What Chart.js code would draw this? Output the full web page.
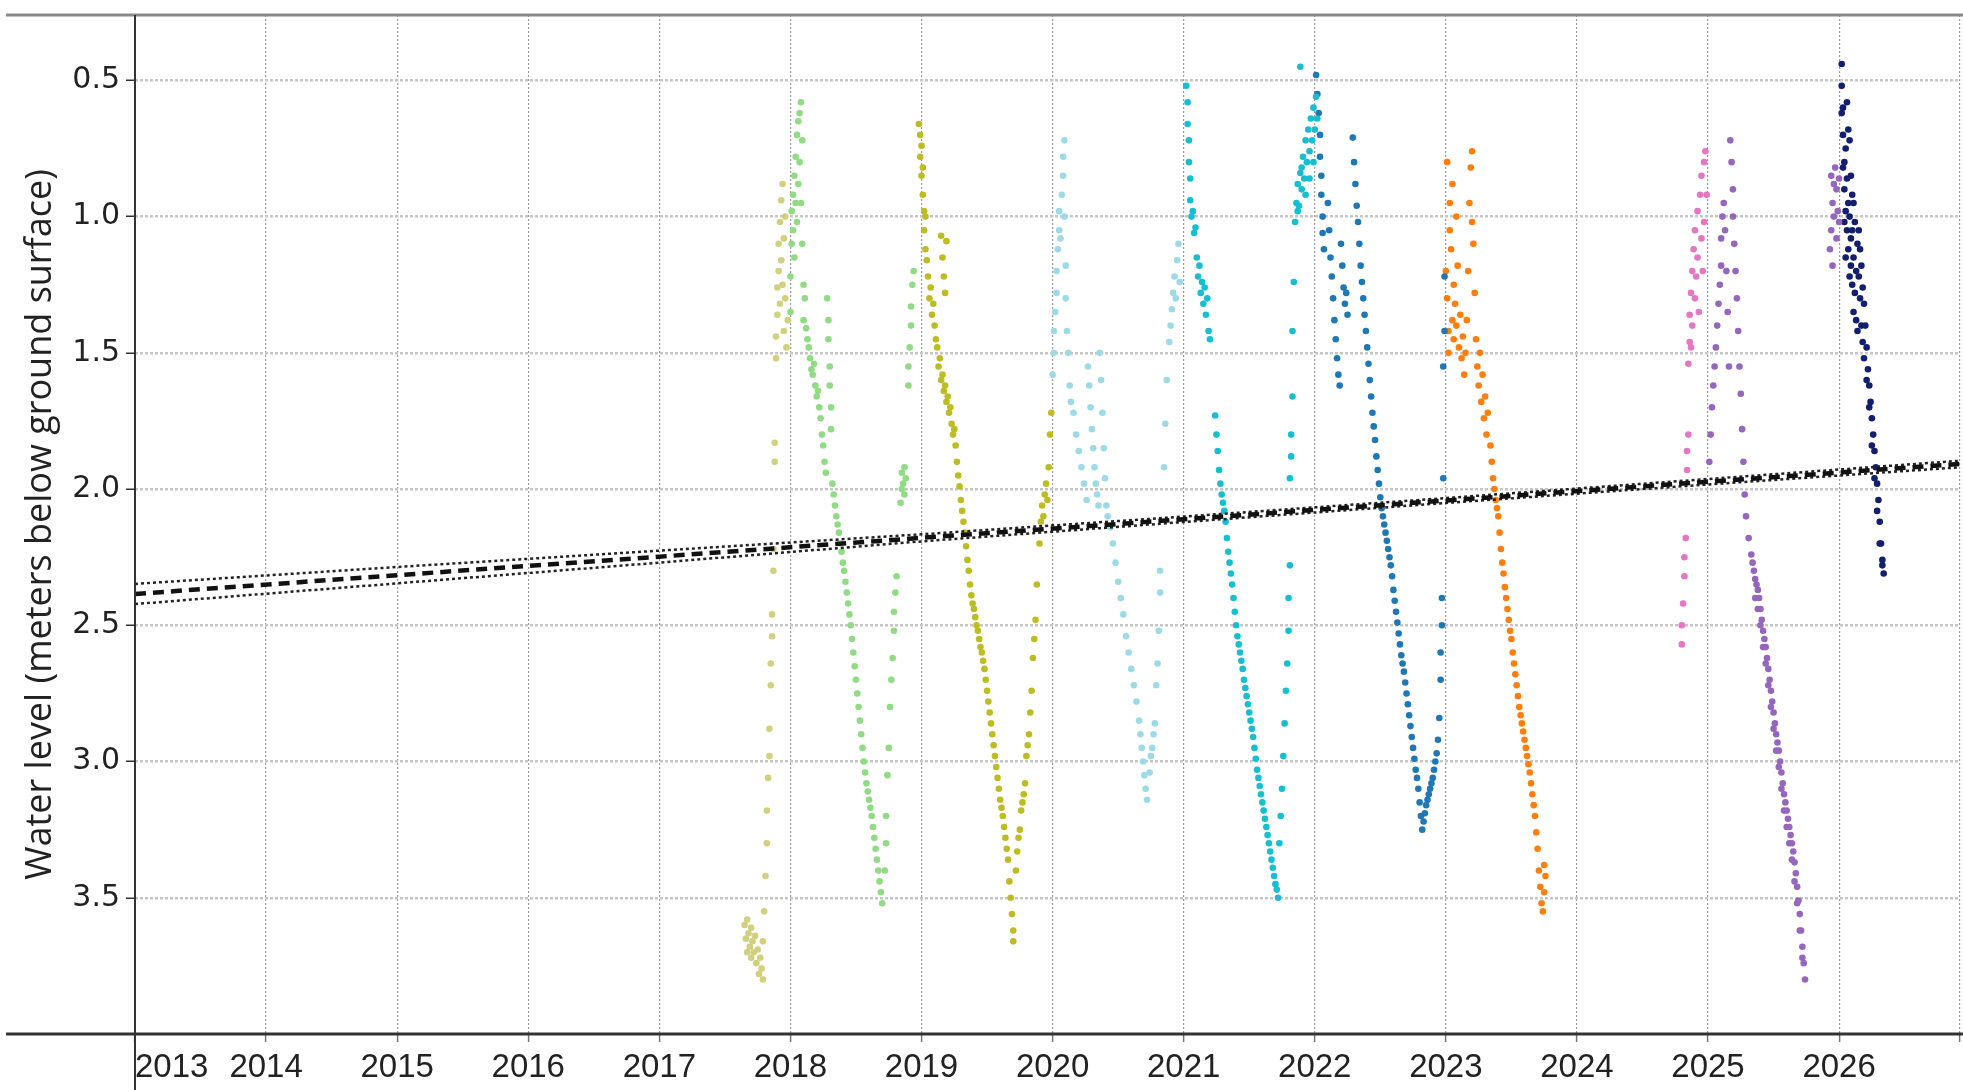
<!DOCTYPE html>
<html>
<head>
<meta charset="utf-8">
<script src="https://cdn.jsdelivr.net/npm/chart.js@4.4.1/dist/chart.umd.min.js"></script>
<style>
  html, body { margin: 0; padding: 0; background: #fff; }
  #wrap { width: 1963px; height: 1090px; }
</style>
</head>
<body>
<div id="wrap"><canvas id="levels" width="1963" height="1090"></canvas></div>
<script>
'use strict';

// axis ranges and ticks
const xMin = 2013.0;
const xMax = 2026.92;
const yearTicks = [2013, 2014, 2015, 2016, 2017, 2018, 2019, 2020, 2021, 2022, 2023, 2024, 2025, 2026, 2026.92];
const yearLabels = ['2013', '2014', '2015', '2016', '2017', '2018', '2019', '2020', '2021', '2022', '2023', '2024', '2025', '2026', ''];
const depthMin = 0.26;
const depthMax = 4.0;
const depthTicks = [0.5, 1.0, 1.5, 2.0, 2.5, 3.0, 3.5];

// long-term trend (center) with its bounds
const trendYears = [2013, 2015, 2017, 2019, 2021, 2023, 2025, 2026.92];
const trendMid = [2.385, 2.316, 2.248, 2.179, 2.111, 2.042, 1.973, 1.908];
const trendUpper = [2.348, 2.286, 2.226, 2.166, 2.101, 2.033, 1.963, 1.896];
const trendLower = [2.422, 2.346, 2.270, 2.192, 2.121, 2.051, 1.983, 1.920];

// readings per season: [decimal year, meters below ground surface]
const season2017 = [
  [2017.65, 3.60], [2017.66, 3.65], [2017.67, 3.58], [2017.67, 3.70], [2017.68, 3.63], [2017.69, 3.68],
  [2017.70, 3.61], [2017.70, 3.72], [2017.71, 3.66], [2017.72, 3.70], [2017.73, 3.64], [2017.74, 3.74],
  [2017.75, 3.69], [2017.76, 3.78], [2017.77, 3.72], [2017.78, 3.76], [2017.79, 3.80], [2017.79, 3.66],
  [2017.80, 3.55], [2017.81, 3.42], [2017.82, 3.30], [2017.82, 3.18], [2017.83, 3.06], [2017.84, 2.98],
  [2017.84, 2.88], [2017.85, 2.72], [2017.85, 2.64], [2017.86, 2.54], [2017.86, 2.46], [2017.87, 2.30],
  [2017.87, 2.22], [2017.88, 1.90], [2017.88, 1.83], [2017.89, 1.52], [2017.89, 1.44], [2017.90, 1.36],
  [2017.90, 1.26], [2017.91, 1.20], [2017.91, 1.10], [2017.92, 1.32], [2017.92, 1.02], [2017.93, 0.94],
  [2017.93, 1.16], [2017.94, 0.88], [2017.94, 1.25], [2017.95, 1.08], [2017.95, 1.42], [2017.96, 1.00],
  [2017.96, 1.30], [2017.97, 1.48], [2017.98, 1.38]
];
const season2018 = [
  [2018.00, 1.35], [2018.00, 1.22], [2018.01, 1.10], [2018.01, 0.98], [2018.02, 1.05], [2018.02, 0.92],
  [2018.03, 0.85], [2018.03, 1.15], [2018.04, 0.95], [2018.04, 0.78], [2018.05, 0.70], [2018.05, 1.02],
  [2018.06, 0.88], [2018.06, 0.65], [2018.07, 0.62], [2018.07, 0.80], [2018.08, 0.58], [2018.08, 0.95],
  [2018.09, 0.72], [2018.09, 1.10], [2018.10, 1.25], [2018.10, 1.38], [2018.11, 1.30],
  [2018.12, 1.41], [2018.13, 1.45], [2018.14, 1.48], [2018.15, 1.52], [2018.16, 1.56], [2018.17, 1.58],
  [2018.18, 1.54], [2018.19, 1.62], [2018.20, 1.66], [2018.21, 1.64], [2018.22, 1.70], [2018.23, 1.74],
  [2018.24, 1.80], [2018.25, 1.84], [2018.26, 1.90], [2018.27, 1.94], [2018.28, 1.30], [2018.29, 1.38],
  [2018.29, 1.45], [2018.30, 1.55], [2018.30, 1.62], [2018.31, 1.70], [2018.31, 1.78], [2018.32, 1.98],
  [2018.33, 2.02], [2018.34, 2.06], [2018.35, 2.10], [2018.36, 2.13], [2018.37, 2.16], [2018.38, 2.20],
  [2018.39, 2.23], [2018.40, 2.27], [2018.41, 2.30], [2018.42, 2.34], [2018.43, 2.38], [2018.44, 2.42],
  [2018.45, 2.46], [2018.46, 2.50], [2018.47, 2.55], [2018.48, 2.60], [2018.49, 2.65], [2018.50, 2.70],
  [2018.51, 2.75], [2018.52, 2.80], [2018.53, 2.85], [2018.54, 2.90], [2018.55, 2.95], [2018.56, 3.00],
  [2018.57, 3.04], [2018.58, 3.08], [2018.59, 3.11], [2018.60, 3.14], [2018.61, 3.17], [2018.62, 3.20],
  [2018.63, 3.24], [2018.64, 3.28], [2018.65, 3.32], [2018.66, 3.36], [2018.67, 3.40], [2018.68, 3.44],
  [2018.69, 3.48], [2018.70, 3.52],
  [2018.72, 3.40], [2018.73, 3.30], [2018.73, 3.20], [2018.74, 3.05], [2018.75, 2.95], [2018.76, 2.80],
  [2018.77, 2.70], [2018.78, 2.62], [2018.79, 2.52], [2018.79, 2.45], [2018.80, 2.38], [2018.81, 2.32],
  [2018.84, 2.05], [2018.85, 2.00], [2018.85, 1.94], [2018.86, 1.98], [2018.87, 1.92], [2018.87, 2.02],
  [2018.88, 1.96], [2018.90, 1.62], [2018.90, 1.55], [2018.91, 1.48], [2018.92, 1.40], [2018.92, 1.33],
  [2018.93, 1.25], [2018.94, 1.20]
];
const season2019 = [
  [2018.98, 0.66], [2018.99, 0.70], [2018.99, 0.78], [2019.00, 0.74], [2019.00, 0.85], [2019.01, 0.92],
  [2019.01, 0.82], [2019.02, 0.98], [2019.02, 1.05], [2019.03, 1.12], [2019.03, 1.00], [2019.04, 1.16],
  [2019.05, 1.22], [2019.06, 1.30], [2019.07, 1.26], [2019.08, 1.36], [2019.09, 1.32], [2019.10, 1.40],
  [2019.11, 1.45], [2019.15, 1.07], [2019.16, 1.15], [2019.17, 1.22], [2019.18, 1.28], [2019.19, 1.09],
  [2019.12, 1.48], [2019.13, 1.55], [2019.14, 1.52], [2019.15, 1.60], [2019.16, 1.58], [2019.17, 1.64],
  [2019.18, 1.62], [2019.19, 1.68], [2019.20, 1.66], [2019.21, 1.72], [2019.22, 1.70], [2019.23, 1.76],
  [2019.24, 1.80], [2019.25, 1.78], [2019.26, 1.84], [2019.27, 1.90], [2019.28, 1.95], [2019.29, 1.99],
  [2019.30, 2.04], [2019.31, 2.08], [2019.32, 2.12], [2019.33, 2.16], [2019.34, 2.21], [2019.35, 2.26],
  [2019.36, 2.30], [2019.37, 2.35], [2019.38, 2.39], [2019.39, 2.42], [2019.40, 2.44], [2019.41, 2.47],
  [2019.42, 2.50], [2019.43, 2.52], [2019.44, 2.55], [2019.45, 2.58], [2019.46, 2.60], [2019.47, 2.63],
  [2019.48, 2.66], [2019.49, 2.70], [2019.50, 2.74], [2019.51, 2.78], [2019.52, 2.82], [2019.53, 2.86],
  [2019.54, 2.90], [2019.55, 2.94], [2019.56, 2.98], [2019.57, 3.02], [2019.58, 3.06], [2019.59, 3.10],
  [2019.60, 3.14], [2019.61, 3.17], [2019.62, 3.20], [2019.63, 3.24], [2019.64, 3.28], [2019.65, 3.32],
  [2019.66, 3.36], [2019.67, 3.44], [2019.68, 3.50], [2019.69, 3.56], [2019.70, 3.62], [2019.70, 3.66],
  [2019.72, 3.40], [2019.73, 3.33], [2019.74, 3.28], [2019.75, 3.25], [2019.76, 3.18], [2019.77, 3.15],
  [2019.78, 3.12], [2019.79, 3.08], [2019.80, 2.98], [2019.81, 2.94], [2019.82, 2.90], [2019.83, 2.82],
  [2019.84, 2.74], [2019.85, 2.62], [2019.86, 2.55], [2019.87, 2.48], [2019.88, 2.35], [2019.90, 2.20],
  [2019.91, 2.12], [2019.92, 2.06], [2019.93, 2.10], [2019.94, 2.02], [2019.95, 1.98], [2019.96, 2.04],
  [2019.97, 1.92], [2019.98, 1.80], [2019.99, 1.72]
];
const season2020 = [
  [2020.00, 1.58], [2020.01, 1.50], [2020.01, 1.42], [2020.02, 1.35], [2020.03, 1.28], [2020.03, 1.20],
  [2020.04, 1.12], [2020.05, 1.05], [2020.05, 0.98], [2020.06, 1.08], [2020.07, 0.92], [2020.08, 0.85],
  [2020.08, 0.78], [2020.09, 0.72], [2020.09, 1.00], [2020.10, 1.18], [2020.10, 1.30], [2020.11, 1.42],
  [2020.12, 1.50], [2020.13, 1.62], [2020.14, 1.68], [2020.16, 1.72], [2020.18, 1.80], [2020.20, 1.86],
  [2020.22, 1.92], [2020.24, 1.98], [2020.26, 2.04], [2020.27, 1.55], [2020.28, 1.62], [2020.29, 1.70],
  [2020.30, 1.78], [2020.31, 1.85], [2020.32, 1.92], [2020.33, 1.98], [2020.34, 2.02], [2020.35, 2.06],
  [2020.36, 1.50], [2020.37, 1.60], [2020.38, 1.72], [2020.39, 1.85], [2020.40, 1.96], [2020.41, 2.06],
  [2020.42, 2.10], [2020.44, 2.14], [2020.46, 2.20], [2020.48, 2.27], [2020.50, 2.34], [2020.52, 2.40],
  [2020.54, 2.46], [2020.56, 2.54], [2020.58, 2.60], [2020.60, 2.66], [2020.62, 2.72], [2020.64, 2.78],
  [2020.66, 2.85], [2020.67, 2.90], [2020.68, 2.95], [2020.69, 3.00], [2020.70, 3.05], [2020.71, 3.10],
  [2020.72, 3.14], [2020.74, 3.04], [2020.75, 2.98], [2020.76, 2.95], [2020.77, 2.90], [2020.78, 2.86],
  [2020.79, 2.72], [2020.80, 2.64], [2020.81, 2.52], [2020.82, 2.38], [2020.82, 2.30], [2020.85, 1.92],
  [2020.86, 1.76], [2020.87, 1.60], [2020.89, 1.46], [2020.90, 1.40], [2020.91, 1.34], [2020.92, 1.28],
  [2020.93, 1.22], [2020.94, 1.30], [2020.95, 1.16], [2020.96, 1.10], [2020.97, 1.24]
];
const season2021 = [
  [2021.02, 0.52], [2021.03, 0.58], [2021.03, 0.66], [2021.04, 0.72], [2021.04, 0.80], [2021.05, 0.86],
  [2021.05, 0.94], [2021.06, 1.00], [2021.07, 0.98], [2021.08, 1.06], [2021.09, 1.04], [2021.10, 1.15],
  [2021.11, 1.22], [2021.12, 1.18], [2021.13, 1.28], [2021.14, 1.24], [2021.15, 1.32], [2021.16, 1.26],
  [2021.17, 1.36], [2021.18, 1.30], [2021.19, 1.42], [2021.20, 1.45],
  [2021.24, 1.73], [2021.25, 1.80], [2021.26, 1.86], [2021.27, 1.93], [2021.28, 1.98], [2021.29, 2.02],
  [2021.30, 2.05], [2021.31, 2.08], [2021.32, 2.12], [2021.33, 2.18], [2021.34, 2.23], [2021.35, 2.27],
  [2021.36, 2.31], [2021.37, 2.35], [2021.38, 2.40], [2021.39, 2.45], [2021.40, 2.50], [2021.41, 2.54],
  [2021.42, 2.57], [2021.43, 2.60], [2021.44, 2.63], [2021.45, 2.66], [2021.46, 2.70], [2021.47, 2.73],
  [2021.48, 2.76], [2021.49, 2.79], [2021.50, 2.82], [2021.51, 2.85], [2021.52, 2.88], [2021.53, 2.91],
  [2021.54, 2.95], [2021.55, 2.99], [2021.56, 3.03], [2021.57, 3.06], [2021.58, 3.09], [2021.59, 3.12],
  [2021.60, 3.15], [2021.61, 3.18], [2021.62, 3.21], [2021.63, 3.24], [2021.64, 3.27], [2021.65, 3.30],
  [2021.66, 3.33], [2021.67, 3.36], [2021.68, 3.39], [2021.69, 3.42], [2021.70, 3.45], [2021.71, 3.47],
  [2021.72, 3.50],
  [2021.73, 3.30], [2021.74, 3.20], [2021.75, 3.10], [2021.76, 2.98], [2021.77, 2.86], [2021.78, 2.74],
  [2021.79, 2.64], [2021.80, 2.52], [2021.80, 2.40], [2021.81, 2.28], [2021.81, 1.96], [2021.82, 1.88],
  [2021.82, 1.80], [2021.83, 1.66], [2021.83, 1.42], [2021.84, 1.24],
  [2021.85, 1.02], [2021.86, 0.95], [2021.87, 0.88], [2021.88, 0.96], [2021.89, 0.84], [2021.89, 0.45],
  [2021.90, 0.90], [2021.91, 0.78], [2021.92, 0.86], [2021.93, 0.72], [2021.94, 0.80], [2021.95, 0.68],
  [2021.96, 0.76], [2021.97, 0.64], [2021.98, 0.72], [2021.99, 0.60], [2022.00, 0.68], [2022.01, 0.56],
  [2022.02, 0.64], [2021.87, 0.98], [2021.90, 0.82], [2021.93, 0.92], [2021.96, 0.86], [2021.99, 0.80]
];
const season2022 = [
  [2022.01, 0.48], [2022.02, 0.55], [2022.03, 0.62], [2022.04, 0.70], [2022.04, 0.78], [2022.05, 0.85],
  [2022.05, 0.92], [2022.06, 1.00], [2022.06, 1.06], [2022.07, 1.12], [2022.10, 0.95], [2022.11, 1.05],
  [2022.12, 1.15], [2022.13, 1.22], [2022.14, 1.30], [2022.15, 1.38], [2022.16, 1.45], [2022.17, 1.52],
  [2022.18, 1.58], [2022.19, 1.62], [2022.20, 1.10], [2022.21, 1.18], [2022.22, 1.26], [2022.23, 1.32],
  [2022.24, 1.28], [2022.25, 1.36],
  [2022.29, 0.71], [2022.30, 0.80], [2022.31, 0.88], [2022.32, 0.96], [2022.33, 1.02], [2022.34, 1.10],
  [2022.35, 1.18], [2022.36, 1.24], [2022.37, 1.30], [2022.38, 1.36], [2022.39, 1.42], [2022.40, 1.48],
  [2022.41, 1.54], [2022.42, 1.60], [2022.43, 1.66], [2022.44, 1.72], [2022.45, 1.77], [2022.46, 1.82],
  [2022.47, 1.88], [2022.48, 1.93], [2022.49, 1.98], [2022.50, 2.03], [2022.51, 2.07], [2022.52, 2.10],
  [2022.53, 2.13], [2022.54, 2.16], [2022.55, 2.19], [2022.56, 2.22], [2022.57, 2.25], [2022.58, 2.28],
  [2022.59, 2.32], [2022.60, 2.37], [2022.61, 2.41], [2022.62, 2.45], [2022.63, 2.49], [2022.64, 2.53],
  [2022.65, 2.57], [2022.66, 2.61], [2022.67, 2.64], [2022.68, 2.67], [2022.69, 2.71], [2022.70, 2.75],
  [2022.71, 2.79], [2022.72, 2.83], [2022.73, 2.87], [2022.74, 2.91], [2022.75, 2.95], [2022.76, 2.99],
  [2022.77, 3.03], [2022.78, 3.06], [2022.79, 3.10], [2022.80, 3.15], [2022.81, 3.20], [2022.82, 3.25],
  [2022.83, 3.22], [2022.84, 3.19], [2022.85, 3.16], [2022.86, 3.14], [2022.87, 3.12], [2022.88, 3.10],
  [2022.89, 3.08], [2022.90, 3.06], [2022.91, 3.03], [2022.92, 3.00], [2022.93, 2.97], [2022.94, 2.92],
  [2022.95, 2.84], [2022.96, 2.70], [2022.96, 2.60], [2022.97, 2.50], [2022.97, 2.40], [2022.98, 1.96],
  [2022.98, 1.55], [2022.99, 1.42], [2022.99, 1.22]
];
const season2023 = [
  [2023.00, 1.20], [2023.01, 1.30], [2023.01, 0.80], [2023.02, 1.42], [2023.02, 1.50], [2023.03, 1.05],
  [2023.03, 0.95], [2023.04, 1.12], [2023.05, 0.88], [2023.05, 1.38], [2023.06, 1.25], [2023.06, 1.45],
  [2023.07, 1.32], [2023.08, 1.40], [2023.08, 1.00], [2023.09, 1.18], [2023.10, 1.48], [2023.11, 1.36],
  [2023.12, 1.52], [2023.13, 1.44], [2023.14, 1.58], [2023.15, 1.50], [2023.16, 1.38], [2023.17, 1.20],
  [2023.18, 0.95], [2023.19, 0.82], [2023.20, 0.76], [2023.20, 1.02], [2023.21, 1.10], [2023.22, 1.28],
  [2023.23, 1.45], [2023.24, 1.55], [2023.25, 1.62], [2023.26, 1.50], [2023.27, 1.68], [2023.28, 1.58],
  [2023.29, 1.74], [2023.30, 1.66], [2023.31, 1.80], [2023.32, 1.72],
  [2023.34, 1.84], [2023.35, 1.90], [2023.36, 1.96], [2023.37, 2.00], [2023.38, 2.04], [2023.39, 2.07],
  [2023.40, 2.10], [2023.41, 2.16], [2023.42, 2.22], [2023.43, 2.27], [2023.44, 2.31], [2023.45, 2.36],
  [2023.46, 2.40], [2023.47, 2.44], [2023.48, 2.48], [2023.49, 2.52], [2023.50, 2.55], [2023.51, 2.60],
  [2023.52, 2.64], [2023.53, 2.68], [2023.54, 2.72], [2023.55, 2.76], [2023.56, 2.80], [2023.57, 2.83],
  [2023.58, 2.86], [2023.59, 2.89], [2023.60, 2.92], [2023.61, 2.95], [2023.62, 2.98], [2023.63, 3.01],
  [2023.64, 3.04], [2023.65, 3.08], [2023.66, 3.12], [2023.67, 3.16], [2023.68, 3.20], [2023.69, 3.26],
  [2023.70, 3.32], [2023.71, 3.40], [2023.72, 3.46], [2023.73, 3.52], [2023.74, 3.55], [2023.75, 3.48],
  [2023.76, 3.42], [2023.75, 3.38]
];
const season2025a = [
  [2024.80, 2.57], [2024.80, 2.50], [2024.81, 2.42], [2024.82, 2.32], [2024.82, 2.25], [2024.83, 2.18],
  [2024.84, 1.93], [2024.84, 1.86], [2024.85, 1.80], [2024.85, 1.54], [2024.86, 1.46], [2024.86, 1.36],
  [2024.87, 1.48], [2024.87, 1.28], [2024.88, 1.20], [2024.88, 1.40], [2024.89, 1.12], [2024.90, 1.30],
  [2024.90, 1.05], [2024.91, 1.22], [2024.92, 0.98], [2024.92, 1.15], [2024.93, 1.35], [2024.94, 0.92],
  [2024.95, 1.08], [2024.95, 0.85], [2024.96, 1.20], [2024.97, 0.80], [2024.97, 1.02], [2024.98, 0.76],
  [2024.99, 0.92]
];
const season2025b = [
  [2025.01, 1.90], [2025.02, 1.80], [2025.03, 1.70], [2025.04, 1.62], [2025.05, 1.55], [2025.06, 1.48],
  [2025.07, 1.40], [2025.08, 1.32], [2025.09, 1.25], [2025.10, 1.18], [2025.10, 1.08], [2025.11, 1.00],
  [2025.12, 0.95], [2025.13, 1.05], [2025.14, 1.20], [2025.15, 1.35], [2025.16, 1.55],
  [2025.17, 0.72], [2025.18, 0.80], [2025.19, 0.90], [2025.19, 1.00], [2025.20, 1.10], [2025.21, 1.20],
  [2025.22, 1.30], [2025.23, 1.42], [2025.24, 1.55], [2025.25, 1.65], [2025.26, 1.78], [2025.27, 1.90],
  [2025.28, 2.02], [2025.29, 2.10], [2025.31, 2.18],
  [2025.33, 2.24], [2025.34, 2.27], [2025.35, 2.30], [2025.36, 2.33], [2025.37, 2.35], [2025.38, 2.37],
  [2025.39, 2.40], [2025.40, 2.44], [2025.41, 2.48], [2025.42, 2.52], [2025.43, 2.55], [2025.44, 2.58],
  [2025.45, 2.62], [2025.46, 2.66], [2025.47, 2.70], [2025.48, 2.74], [2025.49, 2.78], [2025.50, 2.82],
  [2025.51, 2.86], [2025.52, 2.90], [2025.53, 2.93], [2025.54, 2.96], [2025.55, 3.00], [2025.56, 3.04],
  [2025.57, 3.08], [2025.58, 3.12], [2025.59, 3.15], [2025.60, 3.18], [2025.61, 3.21], [2025.62, 3.24],
  [2025.63, 3.27], [2025.64, 3.30], [2025.65, 3.33], [2025.66, 3.37], [2025.67, 3.41], [2025.68, 3.46],
  [2025.69, 3.51], [2025.70, 3.56], [2025.71, 3.62], [2025.72, 3.68], [2025.73, 3.74], [2025.74, 3.80],
  [2025.36, 2.40], [2025.38, 2.44], [2025.40, 2.50], [2025.42, 2.58], [2025.44, 2.64], [2025.46, 2.72],
  [2025.48, 2.80], [2025.50, 2.88], [2025.52, 2.96], [2025.54, 3.02], [2025.56, 3.10], [2025.58, 3.18],
  [2025.60, 3.24], [2025.62, 3.30], [2025.64, 3.36], [2025.66, 3.44], [2025.68, 3.52], [2025.70, 3.62],
  [2025.72, 3.72],
  [2025.93, 1.12], [2025.94, 1.05], [2025.94, 0.85], [2025.95, 0.95], [2025.95, 1.18], [2025.96, 0.88],
  [2025.97, 0.82], [2025.98, 0.90], [2025.99, 0.98], [2026.00, 0.86], [2026.00, 1.02], [2025.96, 1.00],
  [2025.98, 1.08]
];
const season2026 = [
  [2026.02, 0.44], [2026.02, 0.52], [2026.03, 0.60], [2026.03, 0.70], [2026.04, 0.80], [2026.04, 0.90],
  [2026.05, 0.98], [2026.05, 0.75], [2026.06, 0.86], [2026.06, 1.05], [2026.07, 0.95], [2026.07, 1.12],
  [2026.08, 1.00], [2026.08, 0.72], [2026.09, 1.08], [2026.09, 1.18], [2026.10, 1.25], [2026.10, 0.92],
  [2026.11, 1.15], [2026.12, 1.28], [2026.12, 1.02], [2026.13, 1.20], [2026.14, 1.10], [2026.15, 1.22],
  [2026.16, 1.30], [2026.17, 1.18], [2026.18, 1.26], [2026.19, 1.32],
  [2026.02, 0.62], [2026.03, 0.82], [2026.04, 1.02], [2026.05, 1.15], [2026.06, 0.58], [2026.07, 0.68],
  [2026.08, 1.22], [2026.09, 0.85], [2026.10, 1.05], [2026.11, 0.95], [2026.11, 1.35], [2026.13, 1.38],
  [2026.14, 1.42], [2026.15, 1.05], [2026.16, 1.12], [2026.17, 1.40], [2026.18, 1.46], [2026.19, 1.52],
  [2026.20, 1.40], [2026.21, 1.48], [2026.22, 1.56], [2026.23, 1.62], [2026.24, 1.68], [2026.25, 1.74],
  [2026.26, 1.80], [2026.27, 1.86], [2026.28, 1.92], [2026.29, 1.98], [2026.30, 2.04], [2026.31, 2.12],
  [2026.32, 2.20], [2026.33, 2.28], [2026.34, 2.31], [2026.21, 1.60], [2026.23, 1.70], [2026.25, 1.84],
  [2026.27, 1.96], [2026.29, 2.08], [2026.31, 2.20], [2026.33, 2.26]
];

const seasons = [season2017, season2018, season2019, season2020, season2021, season2022, season2023, season2025a, season2025b, season2026];
const seasonColors = ['#d0d07e', '#90db84', '#bcbd22', '#9edae5', '#17becf', '#1f77b4', '#ff7f0e', '#e377c2', '#9467bd', '#131f6e'];

const toPoints = (xs, ys) => xs.map((x, i) => ({ x, y: ys[i] }));

const datasets = [
  {
    type: 'line', data: toPoints(trendYears, trendMid), borderColor: '#111', borderWidth: 4.5,
    borderDash: [11, 7], pointRadius: 0, fill: false, order: 0,
  },
  {
    type: 'line', data: toPoints(trendYears, trendUpper), borderColor: '#222', borderWidth: 2.5,
    borderDash: [3, 3], pointRadius: 0, fill: false, order: 0,
  },
  {
    type: 'line', data: toPoints(trendYears, trendLower), borderColor: '#222', borderWidth: 2.5,
    borderDash: [3, 3], pointRadius: 0, fill: false, order: 0,
  },
].concat(seasons.map((s, i) => ({
  data: s.map(p => ({ x: p[0], y: p[1] })),
  backgroundColor: seasonColors[i],
  borderWidth: 0,
  pointRadius: 3.3,
  pointHoverRadius: 3.3,
  order: 1,
})));

// frame lines that run past the plot edges in the source figure
const framePlugin = {
  id: 'frame',
  afterDraw(chart) {
    const { ctx, chartArea: a } = chart;
    ctx.save();
    ctx.strokeStyle = '#8a8a8a';
    ctx.lineWidth = 3;
    ctx.beginPath(); ctx.moveTo(6, a.top); ctx.lineTo(chart.width, a.top); ctx.stroke();
    ctx.strokeStyle = '#333';
    ctx.beginPath(); ctx.moveTo(6, a.bottom); ctx.lineTo(chart.width, a.bottom); ctx.stroke();
    ctx.lineWidth = 2;
    ctx.beginPath(); ctx.moveTo(a.left, a.top); ctx.lineTo(a.left, chart.height); ctx.stroke();
    ctx.restore();
  }
};

new Chart(document.getElementById('levels'), {
  type: 'scatter',
  data: { datasets },
  options: {
    responsive: false,
    animation: false,
    devicePixelRatio: 1,
    layout: { padding: { top: 15, right: 0, bottom: 0, left: 0 } },
    plugins: { legend: { display: false }, tooltip: { enabled: false } },
    scales: {
      x: {
        type: 'linear',
        min: xMin,
        max: xMax,
        afterBuildTicks: axis => { axis.ticks = yearTicks.map(v => ({ value: v })); },
        afterFit: axis => { axis.height = 56; axis.paddingLeft = 0; axis.paddingRight = 0; },
        ticks: {
          align: 'inner', autoSkip: false, maxRotation: 0, padding: 6, color: '#222',
          font: { family: "'Liberation Sans', Arial, sans-serif", size: 33 },
          callback: (v, i) => yearLabels[i],
        },
        grid: { color: '#9a9a9a', lineWidth: 1.2, tickLength: 8, tickColor: '#777', tickWidth: 1.5, tickBorderDash: [] },
        border: { display: false, dash: [2, 2] },
      },
      y: {
        type: 'linear',
        reverse: true,
        min: depthMin,
        max: depthMax,
        afterBuildTicks: axis => { axis.ticks = depthTicks.map(v => ({ value: v })); },
        afterFit: axis => { axis.width = 135; axis.paddingTop = 0; axis.paddingBottom = 0; },
        ticks: {
          padding: 6, color: '#222',
          font: { family: "'DejaVu Sans', sans-serif", size: 30 },
          callback: v => v.toFixed(1),
        },
        grid: { color: '#c6c6c6', lineWidth: 2.5, tickLength: 9, tickColor: '#333', tickWidth: 1.5, tickBorderDash: [] },
        border: { display: false, dash: [3, 2] },
        title: {
          display: true,
          text: 'Water level (meters below ground surface)',
          color: '#222',
          font: { family: "'Open Sans', sans-serif", size: 36 },
          padding: { top: 19, bottom: 0 },
        },
      },
    },
  },
  plugins: [framePlugin],
});
</script>
</body>
</html>
